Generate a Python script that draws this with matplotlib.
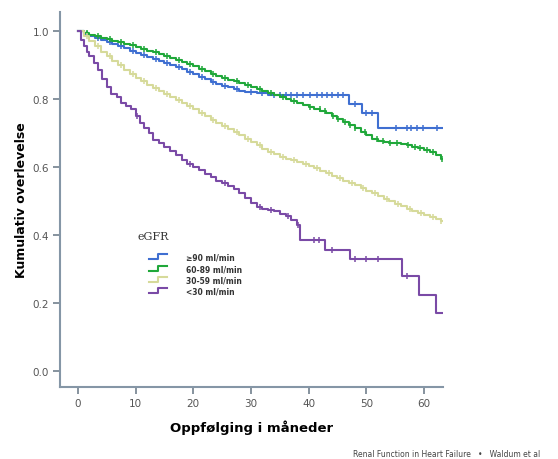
import numpy as np
import matplotlib
matplotlib.use("Agg")
import matplotlib.pyplot as plt
from matplotlib.legend_handler import HandlerBase
from matplotlib.lines import Line2D

# Kaplan-Meier step points (months, survival)
t_90 = [0, 1, 2, 3, 4, 5, 6, 7, 8, 9, 10, 11, 12, 13, 14, 15, 16, 17, 18, 19, 20, 21, 22, 23, 24,
        25, 26, 27, 28, 29, 31, 33, 47, 49.2, 52]
s_90 = [1.0, .993, .987, .98, .974, .968, .962, .955, .949, .943, .937, .931, .925, .919, .913,
        .907, .901, .895, .888, .88, .873, .866, .858, .851, .845, .84, .835, .83, .825, .82, .817,
        .813, .786, .758, .715]
c_90 = [1.5, 3.5, 5.5, 7.5, 9.5, 11.5, 13.5, 15.5, 17.5, 19.5, 21.5, 23.5, 25.5, 27.5, 30, 32,
        34, 35, 36, 37, 38, 39, 40.2, 41.4, 42.3, 43.2, 44, 45.1, 45.9, 48, 50, 51, 55.2, 57,
        57.8, 58.7, 59.8, 62.2]

t_60 = [0, 1, 2, 3, 4, 5, 6, 7, 8, 9, 10, 11, 12, 13, 14, 15, 16, 17, 18, 19, 20, 21, 22, 23, 24,
        25, 26, 27, 28, 29, 30, 31, 32, 33, 34, 35, 36, 37, 38, 39, 40, 41, 42, 43, 44, 45, 46,
        47, 48, 49, 50, 51, 52, 53, 54, 55, 56, 57, 58, 59, 60, 61, 62, 63]
s_60 = [1.0, .995, .99, .985, .98, .976, .971, .967, .962, .958, .953, .948, .943, .938, .932,
        .926, .92, .915, .91, .903, .896, .889, .882, .875, .868, .862, .857, .852, .847, .842,
        .836, .83, .824, .818, .812, .806, .8, .794, .789, .784, .778, .772, .766, .758, .75,
        .742, .733, .724, .714, .704, .694, .684, .677, .674, .672, .67, .668, .664, .66, .655,
        .65, .643, .635, .625]
c_60 = [1.5, 3.5, 5.5, 7.5, 9.5, 11.5, 13.5, 15.5, 17.5, 19.5, 21.5, 23.5, 25.5, 27.5, 29.5,
        31.5, 33.5, 35.5, 37.5, 40.2, 41.9, 42.8, 44.2, 45.1, 46.3, 47.1, 48, 49.7, 51.8, 52.9,
        54.1, 55.3, 57.2, 58.4, 59.3, 60.5, 61.5, 63.1]

t_30 = [0, 1, 2, 3, 4, 5, 6, 7, 8, 9, 10, 11, 12, 13, 14, 15, 16, 17, 18, 19, 20, 21, 22, 23, 24,
        25, 26, 27, 28, 29, 30, 31, 32, 33, 34, 35, 36, 37, 38, 39, 40, 41, 42, 43, 44, 45, 46,
        47, 48, 49, 50, 51, 52, 53, 54, 55, 56, 57, 58, 59, 60, 61, 62, 63]
s_30 = [1.0, .985, .97, .955, .94, .926, .913, .9, .886, .873, .863, .853, .843, .833, .824,
        .815, .806, .798, .79, .78, .77, .76, .75, .74, .73, .72, .711, .702, .693, .684, .674,
        .664, .654, .645, .638, .631, .625, .62, .615, .61, .603, .596, .589, .582, .575, .567,
        .56, .553, .546, .539, .531, .523, .515, .507, .499, .492, .485, .478, .471, .465, .459,
        .453, .447, .441]
c_30 = [1.5, 3.5, 5.5, 7.5, 9.5, 11.5, 13.5, 15.5, 17.5, 19.5, 21.5, 23.5, 25.5, 27.5, 29.5,
        31.5, 33.5, 35.5, 37.5, 39.5, 41.5, 43.5, 45.5, 47.5, 49.5, 51.5, 53.5, 55.5, 57.5, 59.5,
        61.5, 63]

t_0 = [0, 0.5, 1, 1.5, 2, 2.8, 3.5, 4.2, 5, 5.8, 6.7, 7.5, 8.3, 9.2, 10, 10.7, 11.5, 12.3, 13,
       14, 15, 16, 17, 18, 19, 20, 21, 22, 23, 24, 25, 26, 27, 28, 29, 30, 31, 32, 33, 34, 35,
       36, 37, 38, 38.5, 42.8, 47.1, 56.2, 59.1, 62]
s_0 = [1.0, .975, .955, .94, .928, .905, .885, .86, .835, .815, .805, .79, .78, .772, .75, .73,
       .715, .7, .68, .67, .66, .648, .636, .622, .61, .6, .59, .58, .57, .56, .553, .545, .535,
       .525, .51, .495, .482, .478, .475, .47, .462, .455, .445, .43, .385, .355, .33, .28, .225,
       .17]
c_0 = [10.3, 19.5, 25.5, 31.5, 33.5, 36.5, 38.2, 41, 41.8, 44, 48, 50, 52, 57]

t_end = 63.3

labels = ["\u226590 ml/min", "60-89 ml/min", "30-59 ml/min", "<30 ml/min"]
colors = ["#3f6fd1", "#20a83a", "#d6da9a", "#7a4aa6"]
groups = [(t_90, s_90, c_90), (t_60, s_60, c_60), (t_30, s_30, c_30), (t_0, s_0, c_0)]


class StepHandler(HandlerBase):
    # little step symbol in the legend
    def create_artists(self, legend, orig, xd, yd, w, h, fontsize, trans):
        xm = xd + w * 0.5
        xs = [xd, xm, xm, xd + w]
        ys = [yd + h * 0.05, yd + h * 0.05, yd + h * 0.95, yd + h * 0.95]
        ln = Line2D(xs, ys, color=orig.get_color(), lw=1.5, transform=trans)
        return [ln]


fig = plt.figure(figsize=(5.58, 4.6), dpi=100)
ax = fig.add_axes([0.1075, 0.1565, 0.6865, 0.815])

handles = []
for (t, s, c), col, lab in zip(groups, colors, labels):
    tt = list(t) + [t_end]
    ss = list(s) + [s[-1]]
    ln, = ax.step(tt, ss, where="post", color=col, lw=1.5, label=lab)
    # censor marks sit on the step curve
    idx = np.searchsorted(t, c, side="right") - 1
    cs = np.array(s)[idx]
    ax.plot(c, cs, ls="none", marker="|", ms=4.5, mew=1.1, color=col)
    handles.append(ln)

ax.set_xlim(-3.1, 63.3)
ax.set_ylim(-0.047, 1.056)
ax.set_xticks([0, 10, 20, 30, 40, 50, 60])
ax.set_yticks([0.0, 0.2, 0.4, 0.6, 0.8, 1.0])
ax.set_yticklabels(["0.0", "0.2", "0.4", "0.6", "0.8", "1.0"])
for sp in ["top", "right"]:
    ax.spines[sp].set_visible(False)
for sp in ["left", "bottom"]:
    ax.spines[sp].set_color("#8596a6")
    ax.spines[sp].set_linewidth(1.5)
ax.tick_params(direction="out", length=5, width=1.3, color="#7d8a96",
               labelsize=7.5, labelcolor="#555555", pad=3)

ax.set_xlabel("Oppfølging i måneder", fontsize=9.5, fontweight="bold", labelpad=8)
ax.set_ylabel("Kumulativ overlevelse", fontsize=9, fontweight="bold", labelpad=3)

# legend title drawn separately so it sits further above the entries
fig.text(137 / 558, 1 - 237 / 460, "eGFR", fontsize=8, family="serif", color="#333333",
         ha="left", va="center")
leg = ax.legend(handles=handles, labels=labels, frameon=False,
                handler_map={Line2D: StepHandler()},
                loc="upper left", bbox_to_anchor=(142 / 558, 1 - 247 / 460),
                bbox_transform=fig.transFigure, fontsize=5.5, handlelength=2.4,
                handleheight=0.75, handletextpad=2.5, labelspacing=0.3)
for txt in leg.get_texts():
    txt.set_fontweight("bold")
    txt.set_color("#333333")

fig.text(353 / 558, 1 - 455 / 460, "Renal Function in Heart Failure   \u2022   Waldum et al",
         fontsize=5.5, color="#444444", ha="left", va="center")

fig.savefig("out.png", dpi=100, facecolor="white")
